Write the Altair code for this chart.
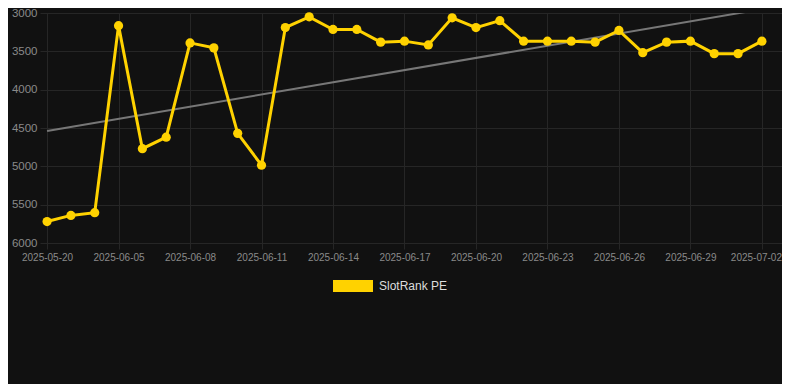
import altair as alt
import pandas as pd

dates = [
    "2025-05-20", "2025-05-28", "2025-06-02", "2025-06-05", "2025-06-06",
    "2025-06-07", "2025-06-08", "2025-06-09", "2025-06-10", "2025-06-11",
    "2025-06-12", "2025-06-13", "2025-06-14", "2025-06-15", "2025-06-16",
    "2025-06-17", "2025-06-18", "2025-06-19", "2025-06-20", "2025-06-21",
    "2025-06-22", "2025-06-23", "2025-06-24", "2025-06-25", "2025-06-26",
    "2025-06-27", "2025-06-28", "2025-06-29", "2025-06-30", "2025-07-01",
    "2025-07-02",
]
ranks = [
    5720, 5640, 5605, 3165, 4770, 4620, 3390, 3455, 4570, 4985,
    3190, 3050, 3215, 3215, 3380, 3367, 3417, 3063, 3190, 3100,
    3367, 3367, 3367, 3380, 3228, 3518, 3380, 3367, 3530, 3530,
    3367,
]
series_name = "SlotRank PE"
trend_dates = ["2025-05-20", "2025-07-02"]
trend_values = [4540, 2950]
label_dates = dates[::3]
y_ticks = [3000, 3500, 4000, 4500, 5000, 5500, 6000]

df = pd.DataFrame({"date": dates, "rank": ranks, "series": [series_name] * len(dates)})
tdf = pd.DataFrame({"date": trend_dates, "rank": trend_values})

GRID = "#262626"
LABEL = "#8a8a8a"
GOLD = "#FFD200"

x_enc = alt.X(
    "date:O",
    sort=dates,
    scale=alt.Scale(type="point", padding=0.57, align=0.26, domain=dates),
    axis=alt.Axis(
        title=None, values=label_dates, labelAngle=0, labelFontSize=10,
        labelColor=LABEL, grid=True, gridColor=GRID, domain=False,
        ticks=True, tickColor=GRID, tickSize=6, labelPadding=3,
        labelFont="Liberation Sans",
        labelOffset={"condition": {"test": f"datum.value == '{dates[-1]}'", "value": -6}, "value": 0},
    ),
)
y_enc = alt.Y(
    "rank:Q",
    scale=alt.Scale(domain=[3000, 6000], reverse=True, nice=False, zero=False),
    axis=alt.Axis(
        title=None, values=y_ticks, format="d", labelFontSize=11.5,
        labelColor=LABEL, grid=True, gridColor=GRID, domain=False,
        ticks=False, labelPadding=3, labelFont="Liberation Sans",
    ),
)

trend = alt.Chart(tdf).mark_line(color="#777777", strokeWidth=2, clip=True).encode(
    x=x_enc, y=y_enc
)

color = alt.Color(
    "series:N",
    scale=alt.Scale(domain=[series_name], range=[GOLD]),
    legend=alt.Legend(
        title=None, orient="none", legendX=293, legendY=253,
        symbolType="M-1,-0.3L1,-0.3L1,0.3L-1,0.3Z", symbolSize=1600,
        symbolStrokeWidth=0, symbolFillColor=GOLD, labelFontSize=12,
        labelColor="#dddddd", labelFont="Liberation Sans", labelOffset=6,
        padding=0,
    ),
)

line = alt.Chart(df).mark_line(strokeWidth=3).encode(x=x_enc, y=y_enc, color=color)
pts = alt.Chart(df).mark_circle(size=85, opacity=1).encode(x=x_enc, y=y_enc, color=color)

chart = (
    alt.layer(trend, line, pts)
    .properties(
        width=742, height=230, background="#111111",
        autosize=alt.AutoSizeParams(type="none"),
        padding={"left": 32, "top": 5, "right": 0, "bottom": 141},
    )
    .configure_view(stroke=None)
)

chart.save("out.html", embed_options={"renderer": "svg", "actions": False})
